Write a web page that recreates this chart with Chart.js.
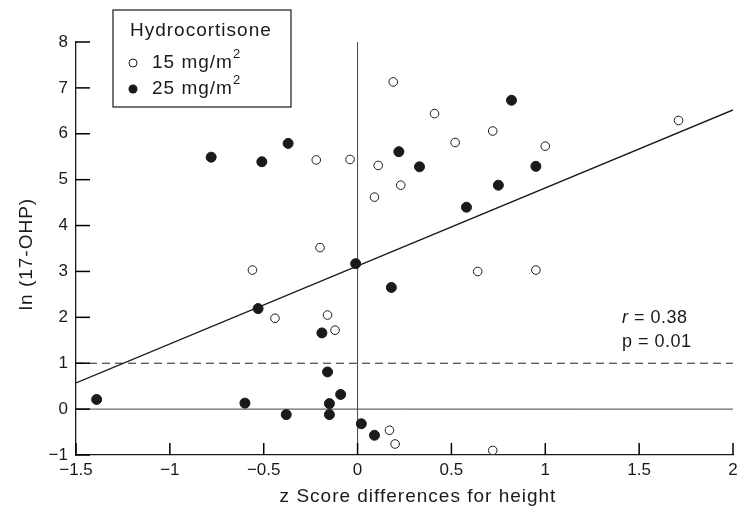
<!DOCTYPE html>
<html>
<head>
<meta charset="utf-8">
<script src="https://cdn.jsdelivr.net/npm/chart.js@4.4.1/dist/chart.umd.min.js"></script>
<style>
  html, body { margin: 0; padding: 0; background: #fff; }
</style>
</head>
<body>
<canvas id="chart" width="739" height="506"></canvas>
<script>
// ---- data ----
const openX   = [0.19, 0.41, 1.71, 0.72, 0.52, 1.00, 0.11, 0.23, 0.09, -0.22, -0.04, -0.20, -0.56, -0.44, -0.16, -0.12, 0.64, 0.95, 0.17, 0.20, 0.72];
const openY   = [7.13, 6.44, 6.29, 6.06, 5.81, 5.73, 5.31, 4.88, 4.62, 5.43, 5.44, 3.52, 3.03, 1.98, 2.05, 1.72, 3.00, 3.03, -0.46, -0.76, -0.90];
const filledX = [-0.78, -0.51, -0.37, 0.82, 0.22, 0.33, 0.95, 0.75, 0.58, -0.01, -0.53, -0.19, -0.16, -0.09, -0.15, -0.15, -0.38, -0.60, -1.39, 0.02, 0.18, 0.09];
const filledY = [5.49, 5.39, 5.79, 6.73, 5.61, 5.28, 5.29, 4.88, 4.40, 3.17, 2.19, 1.66, 0.81, 0.32, 0.12, -0.12, -0.12, 0.13, 0.21, -0.32, 2.65, -0.57];

// regression line end points
const regX = [-1.5, 2];
const regY = [0.57, 6.52];

// axis limits / ticks / reference lines
const xRange = [-1.5, 2];
const yRange = [-1, 8];
const xTicks = [-1.5, -1, -0.5, 0, 0.5, 1, 1.5, 2];
const yTicks = [-1, 0, 1, 2, 3, 4, 5, 6, 7, 8];
const cutoffY = 1;

const legendTitle = "Hydrocortisone";
const seriesLabels = ["15 mg/m", "25 mg/m"];
const statLines = [["r", " = 0.38"], ["p = 0.01"]];

const INK = "#1a1a1a";
const FONT = "'Liberation Sans', Arial, sans-serif";

function pts(xs, ys) {
    return xs.map((x, i) => ({ x, y: ys[i] }));
}

function fmt(v) {
    return v < 0 ? "\u2212" + Math.abs(v) : String(v);
}

// ---- titles, legend, stats, inward ticks ----
const decor = {
    id: "decor",
    afterDraw(chart) {
        const { ctx, chartArea: a } = chart;
        const sx = chart.scales.x, sy = chart.scales.y;
        ctx.save();

        // inward tick marks
        ctx.strokeStyle = "#000";
        ctx.lineWidth = 1.5;
        xTicks.forEach(v => {
            const px = sx.getPixelForValue(v);
            ctx.beginPath();
            ctx.moveTo(px, a.bottom);
            ctx.lineTo(px, a.bottom - 12);
            ctx.stroke();
        });
        yTicks.forEach(v => {
            const py = sy.getPixelForValue(v);
            ctx.beginPath();
            ctx.moveTo(a.left, py);
            ctx.lineTo(a.left + 14, py);
            ctx.stroke();
        });

        ctx.fillStyle = INK;
        ctx.letterSpacing = "1px";
        ctx.font = "19px " + FONT;

        // x title
        ctx.textAlign = "center";
        ctx.textBaseline = "alphabetic";
        ctx.fillText("z Score differences for height", 418, 502);

        // y title
        ctx.save();
        ctx.translate(32, 254);
        ctx.rotate(-Math.PI / 2);
        ctx.fillText("ln (17-OHP)", 0, 0);
        ctx.restore();

        // legend box
        ctx.fillStyle = "#fff";
        ctx.fillRect(113, 10, 178, 97);
        ctx.strokeStyle = INK;
        ctx.lineWidth = 1.2;
        ctx.strokeRect(113, 10, 178, 97);

        ctx.fillStyle = INK;
        ctx.textAlign = "left";
        ctx.fillText(legendTitle, 130, 36);

        const rows = [68, 94];
        rows.forEach((base, i) => {
            const cy = base - 5;
            ctx.beginPath();
            ctx.arc(133, cy, i === 0 ? 4 : 4.5, 0, Math.PI * 2);
            if (i === 0) {
                ctx.lineWidth = 1;
                ctx.stroke();
            } else {
                ctx.fill();
            }
            ctx.font = "19px " + FONT;
            ctx.fillText(seriesLabels[i], 152, base);
            const w = ctx.measureText(seriesLabels[i]).width;
            ctx.font = "13px " + FONT;
            ctx.fillText("2", 152 + w, base - 10);
        });

        // r and p
        ctx.letterSpacing = "0.5px";
        ctx.font = "italic 18px " + FONT;
        ctx.fillText(statLines[0][0], 622, 323);
        const rw = ctx.measureText(statLines[0][0]).width;
        ctx.font = "18px " + FONT;
        ctx.fillText(statLines[0][1], 622 + rw, 323);
        ctx.fillText(statLines[1][0], 622, 347);

        ctx.restore();
    }
};

new Chart(document.getElementById("chart"), {
    type: "scatter",
    data: {
        datasets: [
            {
                data: pts(openX, openY),
                pointRadius: 4.3,
                pointBackgroundColor: "#fff",
                pointBorderColor: INK,
                pointBorderWidth: 1,
                order: 1
            },
            {
                data: pts(filledX, filledY),
                pointRadius: 5,
                pointBackgroundColor: INK,
                pointBorderColor: INK,
                pointBorderWidth: 1,
                order: 1
            },
            {
                // regression
                data: pts(regX, regY),
                showLine: true,
                pointRadius: 0,
                borderColor: INK,
                borderWidth: 1.4,
                order: 2
            },
            {
                // zero line
                data: pts(xRange, [0, 0]),
                showLine: true,
                pointRadius: 0,
                borderColor: "#444",
                borderWidth: 1,
                order: 2
            },
            {
                // cut-off
                data: pts(xRange, [cutoffY, cutoffY]),
                showLine: true,
                pointRadius: 0,
                borderColor: "#222",
                borderWidth: 1,
                borderDash: [8, 5],
                order: 2
            },
            {
                // vertical line at x = 0
                data: pts([0, 0], yRange),
                showLine: true,
                pointRadius: 0,
                borderColor: "#444",
                borderWidth: 1,
                order: 2
            }
        ]
    },
    options: {
        responsive: false,
        animation: false,
        layout: { padding: { left: 0, top: 42, right: 4, bottom: 0 } },
        plugins: {
            legend: { display: false },
            tooltip: { enabled: false }
        },
        scales: {
            x: {
                type: "linear",
                min: xRange[0],
                max: xRange[1],
                grid: { display: false, drawTicks: false },
                border: { display: true, color: INK, width: 1.3 },
                ticks: {
                    stepSize: 0.5,
                    padding: 5,
                    color: INK,
                    font: { family: FONT, size: 17 },
                    maxRotation: 0,
                    autoSkip: false,
                    callback: v => fmt(v)
                },
                afterFit(s) {
                    s.height = 51;
                    s.paddingLeft = 0;
                    s.paddingRight = 0;
                }
            },
            y: {
                type: "linear",
                min: yRange[0],
                max: yRange[1],
                grid: { display: false, drawTicks: false },
                border: { display: true, color: INK, width: 1.3 },
                ticks: {
                    stepSize: 1,
                    padding: 8,
                    color: INK,
                    font: { family: FONT, size: 17 },
                    callback: v => fmt(v)
                },
                afterFit(s) {
                    s.width = 76;
                    s.paddingTop = 0;
                    s.paddingBottom = 0;
                }
            }
        }
    },
    plugins: [decor]
});
</script>
</body>
</html>
